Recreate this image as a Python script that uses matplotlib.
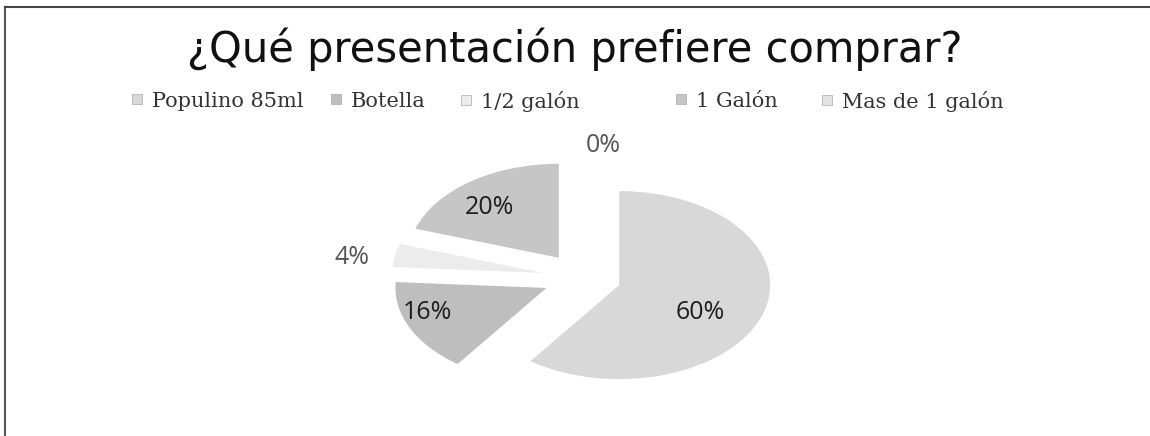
import matplotlib.pyplot as plt
import numpy as np
from matplotlib.lines import Line2D

plt.rcParams['font.family'] = ['Open Sans', 'DejaVu Sans']

# data
categorias = ['Populino 85ml', 'Botella', '1/2 galón', '1 Galón', 'Mas de 1 galón']
porcentajes = [60, 16, 4, 20, 0]
etiquetas = ['60%', '16%', '4%', '20%', '0%']

colores = ['#d8d8d8', '#bebebe', '#ececec', '#c6c6c6', '#e4e4e4']
col_txt = ['#1e1e1e', '#1e1e1e', '#555555', '#1e1e1e', '#555555']
# label placement relative to exploded wedge centre (radius, angle shift)
lab_r = [0.61, 0.83, 1.28, 0.70, 1.15]
lab_shift = [-11, -6.5, 3.2, 4.7, -7]
# legend item x positions (figure fraction)
ley_x = [0.112, 0.285, 0.398, 0.585, 0.712]

fig = plt.figure(figsize=(11.5, 4.36), dpi=100)
ax = fig.add_axes([0.2435, 0.0184, 0.525, 0.690])

wedges, _ = ax.pie(porcentajes, explode=[0.26] * 5, startangle=90, counterclock=False,
                   colors=colores, wedgeprops=dict(linewidth=0))
ax.set_aspect('auto')
ax.set_xlim(-2, 2)
ax.set_ylim(-1.6, 1.6)
ax.axis('off')

for w, lab, r, s, c in zip(wedges, etiquetas, lab_r, lab_shift, col_txt):
    mid = np.deg2rad((w.theta1 + w.theta2) / 2 + s)
    cx, cy = w.center
    ax.text(cx + r * np.cos(mid), cy + r * np.sin(mid), lab, ha='center', va='center',
            fontsize=18, color=c)

fig.text(0.5, 0.858, '¿Qué presentación prefiere comprar?', ha='center', va='baseline',
         fontsize=30, color='#111111', family='DejaVu Sans')

for cat, col, x in zip(categorias, colores, ley_x):
    h = Line2D([], [], marker='s', linestyle='none', markersize=7,
               markerfacecolor=col, markeredgecolor='#aaaaaa', markeredgewidth=0.5)
    fig.legend([h], [cat], loc='center left', bbox_to_anchor=(x, 0.768),
               frameon=False, handlelength=0.8, handletextpad=0.3, borderaxespad=0,
               borderpad=0, prop={'family': 'DejaVu Serif', 'size': 15},
               labelcolor='#333333')

# frame lines of the scanned chart
fig.add_artist(Line2D([0.004, 0.004], [0, 0.984], color='#555555', lw=1.5))
fig.add_artist(Line2D([0.004, 1], [0.984, 0.984], color='#444444', lw=1.5))

fig.savefig('out.png', dpi=100)
